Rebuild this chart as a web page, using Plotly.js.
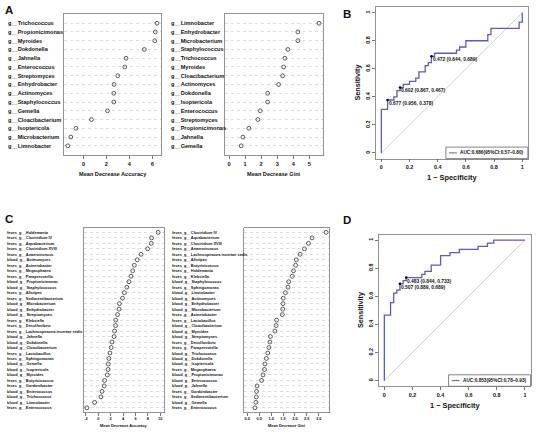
<!DOCTYPE html>
<html>
<head>
<meta charset="utf-8">
<script src="https://cdn.plot.ly/plotly-3.0.1.min.js"></script>
<style>html,body{margin:0;padding:0;background:#fff;}#chart{width:551px;height:434px;}</style>
</head>
<body>
<div id="chart"></div>
<script>
// ---------------- DATA ----------------
// Panel A: Mean Decrease Accuracy
const aAccLabels = ["g__Trichococcus","g__Propionicimonas","g__Myroides","g__Dokdonella","g__Jahnella","g__Enterococcus","g__Streptomyces","g__Enhydrobacter","g__Actinomyces","g__Staphylococcus","g__Gemella","g__Cloacibacterium","g__Isoptericola","g__Microbacterium","g__Limnobacter"];
const aAccValues = [6.41,6.26,6.21,5.30,3.71,3.60,2.99,2.67,2.64,2.64,2.09,0.70,-0.66,-1.10,-1.36];
const aAccTicks = [0,2,4,6];
// Panel A: Mean Decrease Gini
const aGiniLabels = ["g__Limnobacter","g__Enhydrobacter","g__Microbacterium","g__Staphylococcus","g__Trichococcus","g__Myroides","g__Cloacibacterium","g__Actinomyces","g__Dokdonella","g__Isoptericola","g__Enterococcus","g__Streptomyces","g__Propionicimonas","g__Jahnella","g__Gemella"];
const aGiniValues = [5.61,4.29,4.29,3.67,3.48,3.40,3.34,3.09,2.40,2.40,1.94,1.79,1.23,0.86,0.75];
const aGiniTicks = [0,1,2,3,4,5];
// Panel C: Mean Decrease Accuracy
const cAccLabels = ["feces_g__Holdemania","feces_g__Clostridium IV","feces_g__Aquabacterium","feces_g__Clostridium XVIII","feces_g__Anaerotruncus","blood_g__Actinomyces","feces_g__Acinetobacter","feces_g__Megasphaera","feces_g__Paraprevotella","blood_g__Propionicimonas","blood_g__Staphylococcus","feces_g__Alistipes","feces_g__Sedimentibacterium","blood_g__Microbacterium","blood_g__Enhydrobacter","blood_g__Streptomyces","feces_g__Klebsiella","feces_g__Desulfovibrio","feces_g__Lachnospiracea incertae sedis","blood_g__Jahnella","blood_g__Dokdonella","blood_g__Cloacibacterium","feces_g__Lactobacillus","feces_g__Sphingomonas","blood_g__Gemella","blood_g__Isoptericola","blood_g__Myroides","feces_g__Butyricicoccus","feces_g__Gordonibacter","blood_g__Enterococcus","blood_g__Trichococcus","blood_g__Limnobacter","feces_g__Enterococcus"];
const cAccValues = [9.65,8.6,8.55,7.95,6.9,6.28,5.82,5.55,5.27,4.95,4.6,4.2,3.9,3.4,3.35,3.1,2.8,2.78,2.62,2.55,2.2,2.08,1.88,1.7,1.6,1.58,1.45,1.02,0.95,0.6,0.42,-0.6,-1.85];
const cAccTicks = [-2,0,2,4,6,8,10];
// Panel C: Mean Decrease Gini
const cGiniLabels = ["feces_g__Clostridium IV","feces_g__Aquabacterium","feces_g__Clostridium XVIII","feces_g__Anaerotruncus","feces_g__Lachnospiracea incertae sedis","feces_g__Alistipes","feces_g__Butyricicoccus","feces_g__Holdemania","feces_g__Klebsiella","blood_g__Staphylococcus","feces_g__Sphingomonas","blood_g__Limnobacter","blood_g__Actinomyces","blood_g__Enhydrobacter","blood_g__Microbacterium","feces_g__Acinetobacter","feces_g__Lactobacillus","blood_g__Cloacibacterium","blood_g__Myroides","blood_g__Streptomyces","feces_g__Desulfovibrio","feces_g__Paraprevotella","blood_g__Trichococcus","blood_g__Dokdonella","blood_g__Isoptericola","feces_g__Megasphaera","blood_g__Propionicimonas","blood_g__Enterococcus","blood_g__Jahnella","feces_g__Gordonibacter","feces_g__Sedimentibacterium","blood_g__Gemella","feces_g__Enterococcus"];
const cGiniValues = [3.31,2.72,2.57,2.40,2.22,2.06,2.03,1.94,1.89,1.74,1.71,1.60,1.51,1.50,1.49,1.47,1.23,1.21,1.16,0.97,0.95,0.91,0.86,0.80,0.74,0.72,0.66,0.60,0.41,0.39,0.38,0.36,0.32];
const cGiniTicks = [0,0.5,1,1.5,2,2.5,3];

// ROC curves (number of cases / controls, and staircase vertices as counts)
const nCases = 45, nControls = 45;
const bFalsePos = [0,0,2,2,4,4,5,5,6,6,7,7,9,9,11,11,12,12,14,14,15,15,16,16,17,17,24,24,25,25,27,27,34,34,35,35,44,44,45,45];
const bTruePos  = [0,14,14,17,17,18,18,20,20,21,21,22,22,23,23,24,24,26,26,28,28,29,29,31,31,32,32,33,33,34,34,36,36,38,38,40,40,42,42,45];
const bThresholds = [0.472,0.602,0.677];
const bThrSpec = [0.644,0.867,0.956];
const bThrSens = [0.689,0.467,0.378];
const bAucText = "AUC:0.686(95%CI:0.57\u20130.80)";

const dFalsePos = [0,0,2,2,3,3,4,4,5,5,6,6,7,7,12,12,13,13,15,15,18,18,21,21,24,24,30,30,33,33,35,35,45];
const dTruePos  = [0,21,21,25,25,28,28,29,29,31,31,32,32,33,33,34,34,35,35,37,37,40,40,41,41,42,42,43,43,44,44,45,45];
const dThresholds = [0.483,0.507];
const dThrSpec = [0.844,0.889];
const dThrSens = [0.733,0.689];
const dAucText = "AUC:0.853(95%CI:0.78\u20130.93)";

const rocTicks = [0,0.2,0.4,0.6,0.8,1];
const chanceLine = [0,1];

// ---------------- LAYOUT HELPERS ----------------
const W = 551, H = 434;
const FONT = "Liberation Sans, Arial, Helvetica, sans-serif";
const xd = (a,b) => [a/W, b/W];
const yd = (top,bottom) => [1-bottom/H, 1-top/H];
const fnt = (size, weight) => ({family: FONT, size: size, color: "#111", weight: weight || "bold"});
const traces = [];
const annotations = [];
const shapes = [];
const layout = {
  width: W, height: H, margin: {l:0,r:0,t:0,b:0},
  paper_bgcolor: "#fff", plot_bgcolor: "#fff", showlegend: false,
  font: {family: FONT, color: "#111"}
};
const sfx = i => (i===1 ? "" : String(i));

function addDot(i, labels, values, ticks, cfg) {
  const xr = "x"+sfx(i), yr = "y"+sfx(i);
  const n = labels.length;
  const ys = labels.map((_, k) => k);
  traces.push({type:"scatter", mode:"markers", x: values, y: ys, xaxis: xr, yaxis: yr,
    text: labels, hovertemplate: "%{text}: %{x}<extra></extra>",
    marker: {symbol:"circle-open", size: cfg.ms, color:"#333", line:{width:0.8, color:"#333"}}});
  layout["xaxis"+sfx(i)] = {domain: xd(cfg.x0, cfg.x1), anchor: yr, range: cfg.xrange,
    tickvals: ticks, ticktext: ticks.map(t => cfg.dec ? t.toFixed(cfg.dec) : String(t)),
    ticks:"outside", ticklen: cfg.tl, tickwidth:0.8, tickcolor:"#555",
    showline:true, mirror:true, linecolor:"#777", linewidth:0.8,
    showgrid:false, zeroline:false, tickfont: fnt(cfg.tf), automargin:false, fixedrange:true};
  layout["yaxis"+sfx(i)] = {domain: yd(cfg.y0, cfg.y1), anchor: xr, range: [n-1+cfg.pad, -cfg.pad],
    tickvals: ys, showticklabels:false, ticks:"",
    showgrid:true, gridcolor:"#cfcfcf", griddash:"dot", gridwidth:0.7,
    showline:true, mirror:true, linecolor:"#777", linewidth:0.8, zeroline:false, automargin:false, fixedrange:true};
  labels.forEach((lab, k) => annotations.push({xref:"paper", yref: yr, x: cfg.labelX/W, y: k,
    xanchor:"left", yanchor:"middle", text: lab, showarrow:false, borderpad:0, font: fnt(cfg.lf)}));
  annotations.push({xref:"paper", yref:"paper", x: cfg.titleX/W, y: 1-cfg.titleY/H, xanchor:"center", yanchor:"middle",
    text: cfg.title, showarrow:false, font: fnt(cfg.titleF)});
}

function addRoc(i, fp, tp, thr, spec, sens, aucText, cfg) {
  const xr = "x"+sfx(i), yr = "y"+sfx(i);
  traces.push({type:"scatter", mode:"lines", x: chanceLine, y: chanceLine, xaxis: xr, yaxis: yr,
    line:{color:"#c4c4c4", width:0.8}, hoverinfo:"skip"});
  traces.push({type:"scatter", mode:"lines", x: fp.map(v => v/nControls), y: tp.map(v => v/nCases),
    xaxis: xr, yaxis: yr, line:{color:"#5a5ac8", width:1.3}, name: aucText});
  traces.push({type:"scatter", mode:"markers", x: spec.map(s => 1-s), y: sens, xaxis: xr, yaxis: yr,
    marker:{color:"#000", size:2.6}, hoverinfo:"skip"});
  thr.forEach((t, k) => annotations.push({xref: xr, yref: yr, x: 1-spec[k], y: sens[k],
    xanchor:"left", yanchor:"middle", xshift: 0, yshift: -3.5, showarrow:false, borderpad:0,
    text: t.toFixed(3)+" ("+spec[k].toFixed(3)+", "+sens[k].toFixed(3)+")", font: fnt(4.9)}));
  const axCommon = {range:[-0.04,1.04], tickvals: rocTicks, ticktext: rocTicks.map(String),
    ticks:"outside", ticklen:3, tickwidth:0.8, tickcolor:"#555",
    showline:true, mirror:true, linecolor:"#777", linewidth:0.8,
    showgrid:false, zeroline:false, tickfont: fnt(5.4), automargin:false, fixedrange:true};
  layout["xaxis"+sfx(i)] = Object.assign({}, axCommon, {domain: xd(cfg.x0, cfg.x1), anchor: yr});
  layout["yaxis"+sfx(i)] = Object.assign({}, axCommon, {domain: yd(cfg.y0, cfg.y1), anchor: xr, tickangle:-90});
  // axis titles
  annotations.push({xref:"paper", yref:"paper", x: (cfg.x0+cfg.x1)/2/W, y: 1-(cfg.y1+19)/H,
    xanchor:"center", yanchor:"middle", text:"1 \u2212 Specificity", showarrow:false, font: fnt(7.4)});
  annotations.push({xref:"paper", yref:"paper", x: (cfg.x0-18)/W, y: 1-((cfg.y0+cfg.y1)/2)/H,
    xanchor:"center", yanchor:"middle", textangle:-90, text:"Sensitivity", showarrow:false, font: fnt(7.2)});
  // legend box (bottom right inside the plot)
  const lx0 = cfg.x1 - 82, ly0 = cfg.y1 - 11.5;
  shapes.push({type:"rect", xref:"paper", yref:"paper", x0: lx0/W, x1: cfg.x1/W, y0: 1-cfg.y1/H, y1: 1-ly0/H,
    line:{color:"#666", width:0.8}, fillcolor:"#fff"});
  shapes.push({type:"line", xref:"paper", yref:"paper", x0: (lx0+3)/W, x1: (lx0+11)/W,
    y0: 1-(ly0+5.8)/H, y1: 1-(ly0+5.8)/H, line:{color:"#5a5ac8", width:1}});
  annotations.push({xref:"paper", yref:"paper", x: (lx0+13)/W, y: 1-(ly0+5.8)/H, xanchor:"left", yanchor:"middle",
    text: aucText, showarrow:false, borderpad:0, font: fnt(4.7)});
}

// ---------------- PANELS ----------------
addDot(1, aAccLabels, aAccValues, aAccTicks, {x0:63.7, x1:161.3, y0:14, y1:155, xrange:[-1.72,6.78], pad:1.05,
  ms:3.8, tl:3, tf:5.6, lf:5.6, labelX:7, title:"Mean Decrease Accuracy", titleX:112.5, titleY:174, titleF:5.6});
addDot(2, aGiniLabels, aGiniValues, aGiniTicks, {x0:225, x1:323.3, y0:14, y1:155, xrange:[-0.26,5.88], pad:1.05,
  ms:3.8, tl:3, tf:5.6, lf:5.6, labelX:169.5, title:"Mean Decrease Gini", titleX:274, titleY:174, titleF:5.6});
addRoc(3, bFalsePos, bTruePos, bThresholds, bThrSpec, bThrSens, bAucText, {x0:375.7, x1:527.9, y0:7.1, y1:158.6});
addDot(4, cAccLabels, cAccValues, cAccTicks, {x0:84, x1:164.3, y0:227.7, y1:412.5, xrange:[-2.31,10.65], pad:0.85,
  ms:3.9, tl:2.5, tf:3.9, lf:3.9, labelX:6, title:"Mean Decrease Accuracy", titleX:124, titleY:425.7, titleF:3.9});
addDot(5, cGiniLabels, cGiniValues, cGiniTicks, {x0:244.3, x1:329.3, y0:227.7, y1:412.5, xrange:[-0.126,3.445], pad:0.85,
  ms:3.9, tl:2.5, tf:3.9, lf:3.9, labelX:171, dec:1, title:"Mean Decrease Gini", titleX:286.8, titleY:425.7, titleF:3.9});
addRoc(6, dFalsePos, dTruePos, dThresholds, dThrSpec, dThrSens, dAucText, {x0:378.7, x1:530.6, y0:234.4, y1:386.3});

// Panel letters
[["A",9,10],["B",347,14],["C",8.5,219],["D",347,220]].forEach(p => annotations.push({xref:"paper", yref:"paper",
  x: p[1]/W, y: 1-p[2]/H, xanchor:"center", yanchor:"middle", text: p[0], showarrow:false, font: fnt(11.5)}));

layout.annotations = annotations;
layout.shapes = shapes;
Plotly.newPlot("chart", traces, layout, {staticPlot:true, displayModeBar:false});
</script>
</body>
</html>
